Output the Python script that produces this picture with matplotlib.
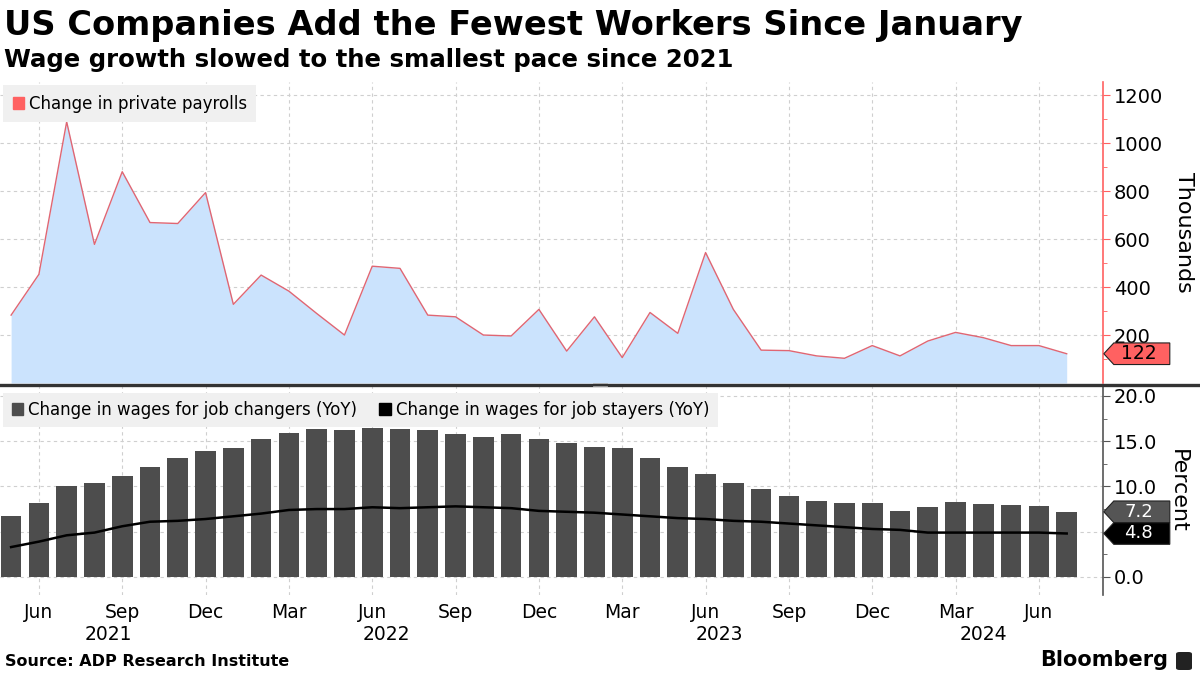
import numpy as np
import pandas as pd
import matplotlib
matplotlib.use('Agg')
import matplotlib.pyplot as plt
from matplotlib.patches import Patch, Polygon, FancyBboxPatch
from matplotlib.lines import Line2D
from matplotlib.transforms import blended_transform_factory

# Dati: maggio 2021 - luglio 2024
months = pd.date_range('2021-05-01', periods=39, freq='MS')

payrolls = [283, 453, 1089, 578, 881, 669, 665, 794, 328, 450, 383, 290, 200,
            487, 478, 283, 276, 200, 196, 307, 133, 276, 106, 294, 207, 544,
            307, 137, 135, 113, 103, 156, 113, 175, 211, 189, 156, 156, 122]

job_changers = [6.7, 8.2, 10.0, 10.4, 11.2, 12.1, 13.2, 13.9, 14.3, 15.3,
                15.9, 16.4, 16.2, 16.5, 16.4, 16.2, 15.8, 15.5, 15.8, 15.3,
                14.8, 14.4, 14.2, 13.2, 12.2, 11.4, 10.4, 9.7, 8.9, 8.4,
                8.2, 8.2, 7.3, 7.7, 8.3, 8.1, 7.9, 7.8, 7.2]

job_stayers = [3.3, 3.9, 4.6, 4.9, 5.6, 6.1, 6.2, 6.4, 6.7, 7.0, 7.4, 7.5,
               7.5, 7.7, 7.6, 7.7, 7.8, 7.7, 7.6, 7.3, 7.2, 7.1, 6.9, 6.7,
               6.5, 6.4, 6.2, 6.1, 5.9, 5.7, 5.5, 5.3, 5.2, 4.9, 4.9, 4.9,
               4.9, 4.9, 4.8]

title = 'US Companies Add the Fewest Workers Since January'
subtitle = 'Wage growth slowed to the smallest pace since 2021'
source = 'Source: ADP Research Institute'

# Colori
RED = '#ff6161'
RED_LINE = '#e06673'
BLUE_FILL = '#cbe3fd'
BAR_GREY = '#4d4d4d'
GRID = '#cfcfcf'

plt.rcParams['font.family'] = ['DejaVu Sans']

x = np.arange(len(months))
fig = plt.figure(figsize=(12, 6.75), dpi=100)

ax1 = fig.add_axes([0.0, 0.4326, 0.919, 0.4459])
ax2 = fig.add_axes([0.0, 0.1185, 0.919, 0.3096])

xlim = (-0.4, 39.3)

# Pannello superiore: area payrolls
ax1.fill_between(x, payrolls, 0, color=BLUE_FILL, lw=0, zorder=2)
ax1.plot(x, payrolls, color=RED_LINE, lw=1.0, zorder=3)
ax1.set_xlim(*xlim)
ax1.set_ylim(0, 1255)
ax1.set_yticks(np.arange(200, 1201, 200))
ax1.set_yticks(np.arange(100, 1201, 100), minor=True)

# Pannello inferiore: barre + linea
ax2.bar(x, job_changers, width=0.745, color=BAR_GREY, zorder=2)
ax2.plot(x, job_stayers, color='black', lw=1.8, zorder=3)
ax2.set_xlim(*xlim)
ax2.set_ylim(-2.0, 21.1)
ax2.set_yticks(np.arange(0, 20.1, 5))
ax2.set_yticks(np.arange(0, 20.1, 2.5), minor=True)
# l'etichetta 5.0 e' coperta dai tag dei valori finali
ax2.set_yticklabels(['0.0', '', '10.0', '15.0', '20.0'])

# Tick trimestrali
qidx = [i for i, m in enumerate(months) if m.month in (3, 6, 9, 12)]
qlab = [months[i].strftime('%b') for i in qidx]

for ax, spine_col in ((ax1, RED), (ax2, '#555555')):
    for s in ('top', 'left', 'bottom'):
        ax.spines[s].set_visible(False)
    ax.spines['right'].set_color(spine_col)
    ax.spines['right'].set_linewidth(1.2)
    ax.yaxis.tick_right()
    ax.tick_params(axis='y', which='major', direction='out', length=5,
                   color=spine_col, labelsize=14, pad=3)
    ax.tick_params(axis='y', which='minor', direction='out', length=3,
                   color=spine_col)
    ax.set_xticks(qidx)
    ax.tick_params(axis='x', length=0, labelsize=13.5, pad=6)
    ax.grid(True, which='major', color=GRID, lw=0.8, ls=(0, (3, 3)), zorder=0)
    ax.set_facecolor('white')

ax1.set_xticklabels([])
ax2.set_xticklabels(qlab)

# Etichette anno centrate sui mesi di ogni anno
tr = blended_transform_factory(ax2.transData, ax2.transAxes)
for yr in sorted(set(months.year)):
    idx = [i for i, m in enumerate(months) if m.year == yr]
    ax2.text((idx[0] + idx[-1]) / 2, -0.19, str(yr), transform=tr,
             ha='center', va='center', fontsize=13.5)

ax1.yaxis.set_label_position('right')
ax1.set_ylabel('Thousands', rotation=270, fontsize=16, labelpad=22)
ax2.yaxis.set_label_position('right')
ax2.set_ylabel('Percent', rotation=270, fontsize=16, labelpad=22)

# Legende
leg1 = ax1.legend(handles=[Patch(color=RED, label='Change in private payrolls')],
                  loc='upper left', bbox_to_anchor=(0.0, 1.0), borderaxespad=0.2,
                  fontsize=12, frameon=True, handlelength=0.7, handleheight=0.7,
                  handletextpad=0.3, borderpad=0.55, fancybox=False)
leg1.get_frame().set_facecolor('#f0f0f0')
leg1.get_frame().set_edgecolor('none')
leg1.get_frame().set_alpha(1)

leg2 = ax2.legend(handles=[Patch(color=BAR_GREY, label='Change in wages for job changers (YoY)'),
                           Patch(color='black', label='Change in wages for job stayers (YoY)')],
                  loc='upper left', bbox_to_anchor=(0.0, 0.985), borderaxespad=0.2,
                  fontsize=12, ncol=2, frameon=True, handlelength=0.7,
                  handleheight=0.7, handletextpad=0.3, columnspacing=1.3,
                  borderpad=0.5, fancybox=False)
leg2.get_frame().set_facecolor('#f0f0f0')
leg2.get_frame().set_edgecolor('none')
leg2.get_frame().set_alpha(1)


# Etichette valore sull'asse destro
def value_tag(ax, value, text, face, txtcol, size):
    fig.canvas.draw()
    px, py = ax.transData.transform((ax.get_xlim()[1], value))
    h = 10.8
    verts = [(px + 1, py), (px + 11, py + h), (px + 67, py + h),
             (px + 67, py - h), (px + 11, py - h)]
    fig.patches.append(Polygon(verts, closed=True, transform=None,
                               facecolor=face, edgecolor='#222222', lw=0.8,
                               zorder=10))
    fx, fy = fig.transFigure.inverted().transform((px + 36, py))
    fig.text(fx, fy, text, ha='center', va='center', fontsize=size,
             color=txtcol, zorder=11)


value_tag(ax1, payrolls[-1], f'{payrolls[-1]}', RED, 'black', 13.5)
value_tag(ax2, job_changers[-1], f'{job_changers[-1]:.1f}', '#555555', 'white', 13)
value_tag(ax2, job_stayers[-1], f'{job_stayers[-1]:.1f}', 'black', 'white', 13)

# Separatore tra i pannelli
fig.add_artist(Line2D([0, 1], [1 - 384.5 / 675] * 2, color='#333333', lw=2.4))
for dy in (-1.2, 1.2):
    fig.add_artist(Line2D([593 / 1200, 607 / 1200], [1 - (384.5 + dy) / 675] * 2,
                          color='#aaaaaa', lw=0.6))

# Titoli e piè di pagina
fig.text(4 / 1200, 1 - 25 / 675, title, fontsize=24.2, fontweight='bold',
         ha='left', va='center')
fig.text(4 / 1200, 1 - 60 / 675, subtitle, fontsize=17.6, fontweight='bold',
         ha='left', va='center')
fig.text(5 / 1200, 1 - 662 / 675, source, fontsize=11.5, fontweight='bold',
         ha='left', va='center')
fig.text(1168 / 1200, 1 - 660 / 675, 'Bloomberg', fontsize=15, fontweight='bold',
         ha='right', va='center')
icon = FancyBboxPatch((1176 / 1200, 1 - 670 / 675), 16 / 1200, 18 / 675,
                      boxstyle='round,pad=0,rounding_size=0.003',
                      transform=fig.transFigure, facecolor='#222222', edgecolor='none')
fig.patches.append(icon)

fig.savefig('out.png', dpi=100)
